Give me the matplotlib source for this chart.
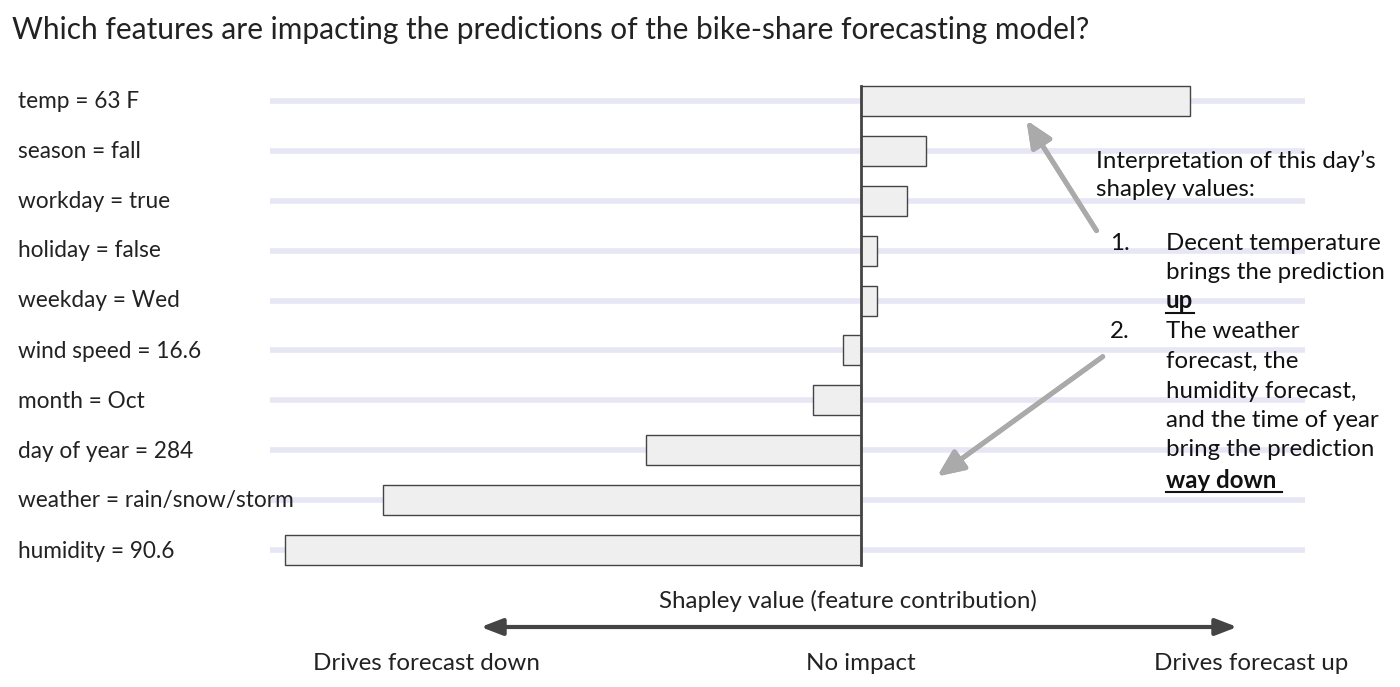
import matplotlib.pyplot as plt
from matplotlib.lines import Line2D

plt.rcParams['font.family'] = ['Lato', 'DejaVu Sans']

features = ['temp = 63 F', 'season = fall', 'workday = true', 'holiday = false',
            'weekday = Wed', 'wind speed = 16.6', 'month = Oct', 'day of year = 284',
            'weather = rain/snow/storm', 'humidity = 90.6']
shap = [3.29, 0.65, 0.46, 0.16, 0.16, -0.18, -0.48, -2.15, -4.78, -5.76]

W, H = 1400, 687
fig = plt.figure(figsize=(W / 100, H / 100), dpi=100)
ax = fig.add_axes([270 / W, 1 - 575 / H, 1035 / W, 499 / H])

def fx(px):
    return px / W

def fy(py):
    return 1 - py / H

rows = range(len(features))
for i in rows:
    ax.axhline(i, color='#e6e6f5', lw=4, zorder=0)
ax.barh(rows, shap, height=0.6, color='#efefef', edgecolor='#444444', lw=1, zorder=2)
ax.axvline(0, color='#444444', lw=2, ymin=0.02, ymax=0.98, zorder=3)
ax.set_xlim(-5.91, 4.44)
ax.set_ylim(9.5, -0.5)
ax.axis('off')

for i, name in enumerate(features):
    fig.text(fx(18), fy(101 + 50 * i), name, fontsize=16.3, va='center', ha='left', color='#222222')

fig.text(fx(12), fy(30), 'Which features are impacting the predictions of the bike-share forecasting model?',
         fontsize=21.5, va='center', ha='left', color='#222222')

# annotation text
tc = '#111111'
fs = 17.3
fig.text(fx(1096), fy(161), "Interpretation of this day\u2019s", fontsize=fs, va='center', color=tc)
fig.text(fx(1096), fy(190), 'shapley values:', fontsize=fs, va='center', color=tc)
fig.text(fx(1130), fy(243), '1.', fontsize=fs, va='center', ha='right', color=tc)
fig.text(fx(1130), fy(332), '2.', fontsize=fs, va='center', ha='right', color=tc)
lines1 = ['Decent temperature', 'brings the prediction']
for k, s in enumerate(lines1):
    fig.text(fx(1166), fy(243 + 30 * k), s, fontsize=fs, va='center', color=tc)
fig.text(fx(1166), fy(301), 'up', fontsize=fs, va='center', color=tc, weight='bold')
fig.add_artist(Line2D([fx(1166), fx(1194)], [fy(313), fy(313)], color=tc, lw=1.5))
lines2 = ['The weather', 'forecast, the', 'humidity forecast,', 'and the time of year', 'bring the prediction']
for k, s in enumerate(lines2):
    fig.text(fx(1166), fy(332 + 29.5 * k), s, fontsize=fs, va='center', color=tc)
fig.text(fx(1166), fy(480), 'way down', fontsize=fs, va='center', color=tc, weight='bold')
fig.add_artist(Line2D([fx(1166), fx(1282)], [fy(492), fy(492)], color=tc, lw=1.5))

# grey arrows
ap = dict(arrowstyle='-|>,head_length=1.6,head_width=0.7', color='#aaaaaa', lw=3.5)
fig.add_artist(plt.annotate('', xy=(fx(1025), fy(118)), xytext=(fx(1098), fy(233)),
                            xycoords='figure fraction', arrowprops=ap))
fig.add_artist(plt.annotate('', xy=(fx(935), fy(478)), xytext=(fx(1105), fy(355)),
                            xycoords='figure fraction', arrowprops=ap))

# bottom axis explanation
bf = 17.4
fig.text(fx(848), fy(601), 'Shapley value (feature contribution)', fontsize=bf, ha='center', va='center', color='#222222')
ap2 = dict(arrowstyle='<|-|>,head_length=1.3,head_width=0.5', color='#444444', lw=3)
ax.annotate('', xy=(fx(1240), fy(627)), xytext=(fx(478), fy(627)),
            xycoords='figure fraction', arrowprops=ap2)
fig.text(fx(426), fy(664), 'Drives forecast down', fontsize=bf, ha='center', va='center', color='#222222')
fig.text(fx(861), fy(664), 'No impact', fontsize=bf, ha='center', va='center', color='#222222')
fig.text(fx(1251), fy(664), 'Drives forecast up', fontsize=bf, ha='center', va='center', color='#222222')

fig.savefig('out.png', dpi=100)
